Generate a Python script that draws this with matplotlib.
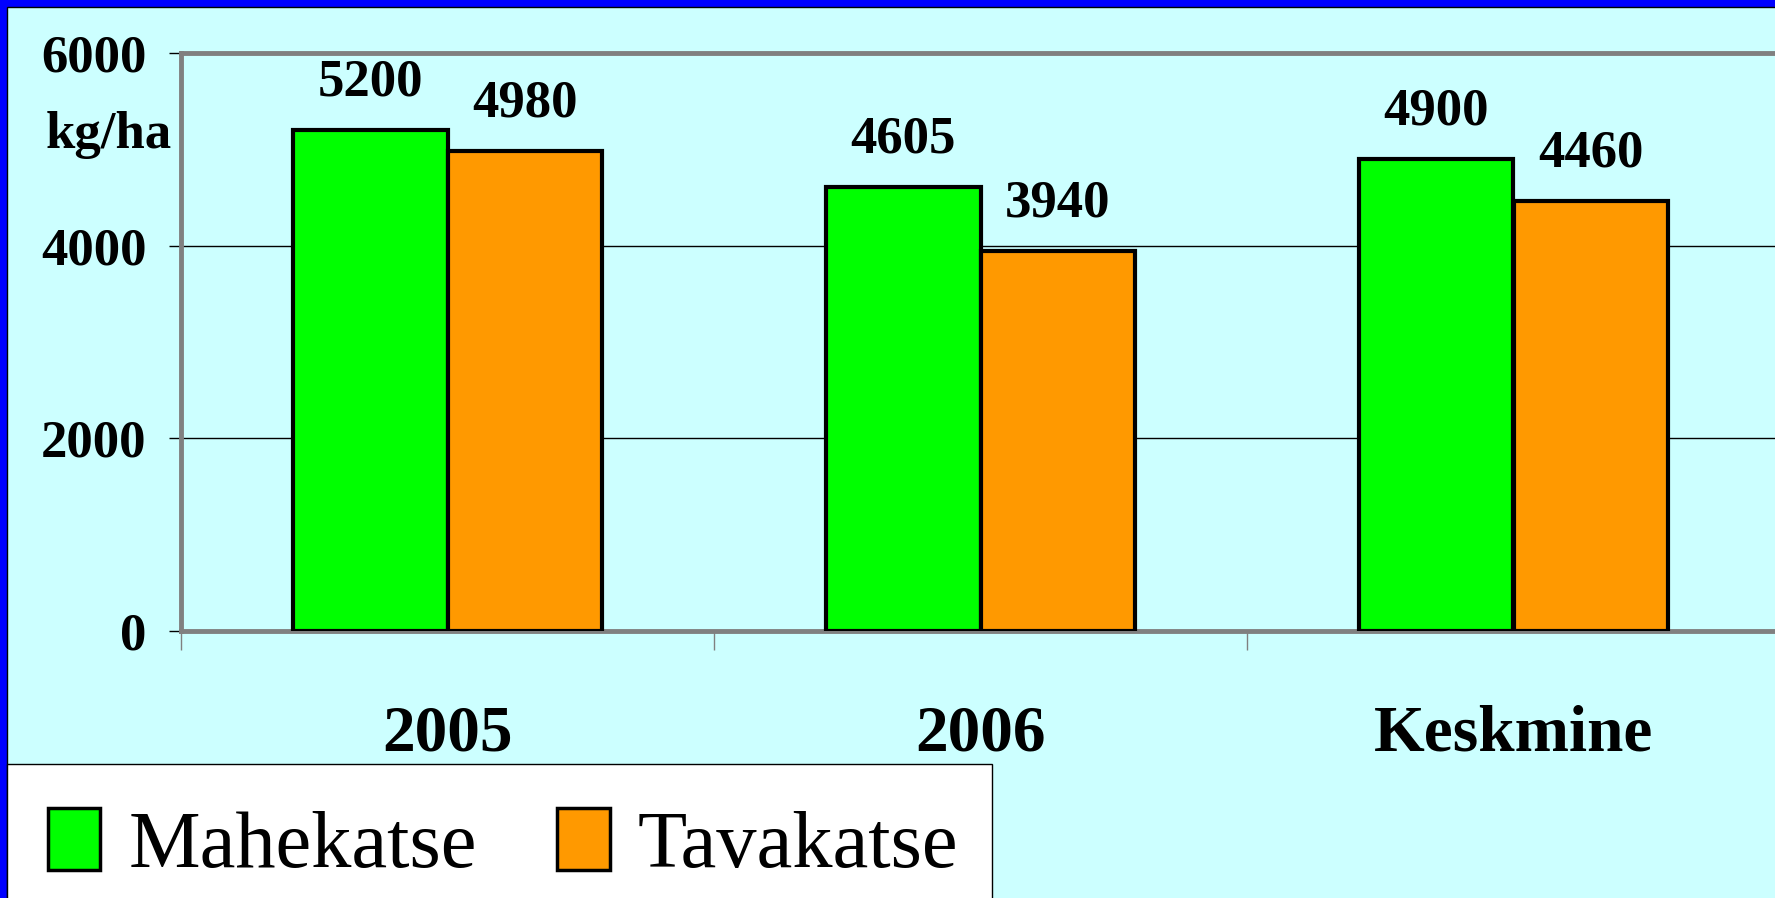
import matplotlib.pyplot as plt
from matplotlib.patches import Rectangle, Patch


categories = ["2005", "2006", "Keskmine"]
mahekatse = [5200, 4605, 4900]
tavakatse = [4980, 3940, 4460]
series_names = ["Mahekatse", "Tavakatse"]
y_ticks = [0, 2000, 4000, 6000]

GREEN = "#00FF00"
ORANGE = "#FF9900"
BG = "#CCFFFF"
GRAY = "#808080"
SERIF = ["Liberation Serif", "DejaVu Serif"]

W, H = 1775, 898
fig = plt.figure(figsize=(W / 100, H / 100), dpi=100, facecolor="#0000FF")

# light cyan slide area inside the blue border
fig.patches.append(Rectangle((7 / W, -0.01), 1.0, (H - 7) / H + 0.01, transform=fig.transFigure,
                             facecolor=BG, edgecolor="black", lw=1.0, zorder=-2))

ax = fig.add_axes([181 / W, (H - 631) / H, 1599 / W, 578 / H])
ax.set_facecolor(BG)

x = range(len(categories))
bw = 0.29
ax.bar([i - bw / 2 for i in x], mahekatse, bw, color=GREEN, edgecolor="black", lw=3.0, zorder=3)
ax.bar([i + bw / 2 for i in x], tavakatse, bw, color=ORANGE, edgecolor="black", lw=3.0, zorder=3)

for i in x:
    for dx, v in ((-bw / 2, mahekatse[i]), (bw / 2, tavakatse[i])):
        ax.annotate(str(v), (i + dx, v), xytext=(0, 25), textcoords="offset points",
                    ha="center", va="baseline", fontsize=38, fontweight="bold", family=SERIF)

ax.set_ylim(0, 6000)
ax.set_xlim(-0.5, 2.5)
ax.set_yticks(y_ticks)
ax.set_yticklabels([str(t) for t in y_ticks], fontsize=38, fontweight="bold", family=SERIF)
ax.tick_params(axis="y", length=9, width=1.0, color="black", pad=16)

ax.set_xticks([-0.5, 0.5, 1.5, 2.5])
ax.set_xticklabels([])
ax.tick_params(axis="x", which="major", length=14, width=1.0, color=GRAY)
ax.set_xticks(list(x), minor=True)
ax.set_xticklabels(categories, minor=True, fontsize=47, fontweight="bold", family=SERIF)
ax.tick_params(axis="x", which="minor", length=0, pad=53)

ax.yaxis.grid(True, color="black", lw=1.0, zorder=1)
ax.set_axisbelow(True)

for side in ("left", "top", "bottom"):
    ax.spines[side].set_color(GRAY)
    ax.spines[side].set_linewidth(3.5)
ax.spines["right"].set_visible(False)

fig.text(109 / W, (H - 148) / H, "kg/ha", ha="center", va="baseline",
         fontsize=38, fontweight="bold", family=SERIF)

# legend box in the lower left corner
fig.patches.append(Rectangle((7 / W, -0.01), (992 - 7) / W, (H - 764) / H + 0.01,
                             transform=fig.transFigure, facecolor="white",
                             edgecolor="black", lw=1.0, zorder=-1))
handles = [Patch(facecolor=GREEN, edgecolor="black", lw=2.5, label=series_names[0]),
           Patch(facecolor=ORANGE, edgecolor="black", lw=2.5, label=series_names[1])]
fig.legend(handles=handles, loc="center left", bbox_to_anchor=(48 / W, (H - 846) / H),
           ncol=2, frameon=False, borderpad=0, borderaxespad=0,
           handlelength=0.65, handleheight=0.8, handletextpad=0.35, columnspacing=1.0,
           prop={"family": SERIF, "size": 58})

fig.savefig("out.png", dpi=100, facecolor=fig.get_facecolor())
